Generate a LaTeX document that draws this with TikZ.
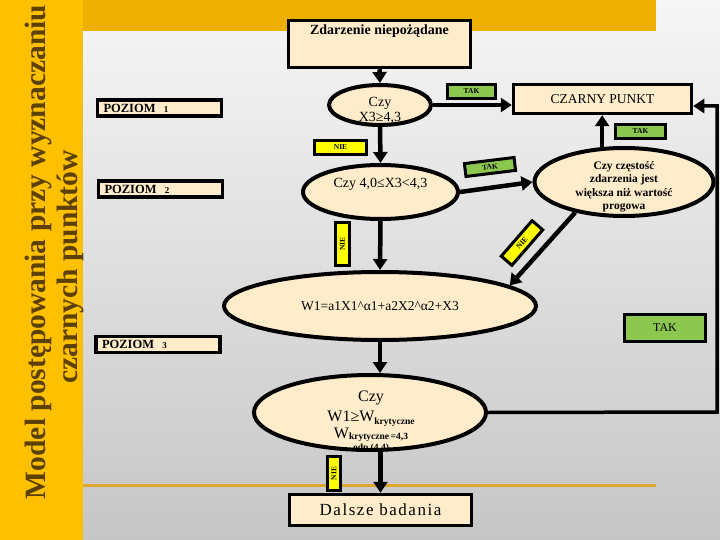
\documentclass[tikz,border=0pt]{standalone}
\usepackage{fontspec}
\setmainfont{Liberation Serif}
\newfontfamily\spacedfont[LetterSpace=9]{Liberation Serif}
\usepackage{tikz}
\usetikzlibrary{arrows.meta, shapes.geometric}

\definecolor{strip}{RGB}{255,192,0}
\definecolor{topbar}{RGB}{238,176,0}
\definecolor{rulecol}{RGB}{222,166,44}
\definecolor{titlebrown}{RGB}{92,64,0}
\definecolor{cream}{RGB}{254,236,202}
\definecolor{tagyellow}{RGB}{255,255,0}
\definecolor{taggreen}{RGB}{140,200,80}
\definecolor{bgtop}{RGB}{246,246,246}
\definecolor{bgbottom}{RGB}{198,198,198}

\newcommand{\krysub}[2][-2.5pt]{\raisebox{#1}{\bfseries\fontsize{9.5}{10}\selectfont #2}}

\begin{document}
\begin{tikzpicture}[x=1pt, y=-1pt,
	box/.style={draw, line width=3.5pt, fill=cream, inner sep=0pt},
	oval/.style={ellipse, draw, line width=4pt, fill=cream, inner sep=0pt, align=center},
	ovaltext/.style={align=center, inner sep=0pt},
	level/.style={box, inner xsep=6pt, minimum height=16pt, text width=112pt, align=left, font=\bfseries\fontsize{12.5}{13}\selectfont},
	tag/.style={draw, line width=3pt, inner sep=0pt, font=\bfseries\fontsize{7.5}{8}\selectfont},
	yes/.style={tag, fill=taggreen},
	no/.style={tag, fill=tagyellow},
	flow/.style={line width=4.5pt, -{Triangle[length=11pt, width=14pt]}}]
			% Background and title:
			\useasboundingbox (0, 0) rectangle (720, 540);
			\shade[top color=bgtop, bottom color=bgbottom] (83, 0) rectangle (720, 540);
			\fill[strip] (0, 0) rectangle (83, 540);
			\fill[topbar] (83, 0) rectangle (656, 31);
			\draw[rulecol, line width=3pt] (83, 485) -- (656, 485);
			\node[rotate=90, text=titlebrown, font=\bfseries\fontsize{29.5}{32}\selectfont](title1) at (38, 252){Model postępowania przy wyznaczaniu};
			\node[rotate=90, text=titlebrown, font=\bfseries\fontsize{29.5}{32}\selectfont](title2) at (70, 267){czarnych punktów};
			% Boxes, decisions and labels:
			\node[box, minimum width=182pt, text height=14pt, text depth=33pt, font=\bfseries\fontsize{14}{16}\selectfont](zdarz) at (379.5, 44){Zdarzenie niepożądane};
			\node[box, minimum width=178pt, minimum height=29pt, font=\fontsize{13.5}{15}\selectfont](czarny) at (602.5, 99){CZARNY PUNKT};
			\node[level](poz1) at (159.5, 108){POZIOM~~{\fontsize{9}{9}\selectfont 1}};
			\node[level](poz2) at (160.5, 189){POZIOM~~{\fontsize{9}{9}\selectfont 2}};
			\node[level](poz3) at (158, 344.5){POZIOM~~{\fontsize{9}{9}\selectfont 3}};
			\node[oval, minimum width=102pt, minimum height=40pt](q1) at (380, 105){};
			\node[ovaltext, font=\fontsize{14}{15}\selectfont](q1txt) at (380, 110){Czy\\X3≥4,3};
			\node[oval, minimum width=155pt, minimum height=54pt, text depth=18pt, font=\fontsize{14}{16}\selectfont](q2) at (380.5, 192){Czy 4,0≤X3<4,3};
			\node[oval, minimum width=179pt, minimum height=68pt](q3) at (624, 182){};
			\node[ovaltext, font=\bfseries\fontsize{11.5}{13.5}\selectfont](q3txt) at (624, 187){Czy częstość\\zdarzenia jest\\większa niż wartość\\progowa};
			\node[oval, minimum width=312pt, minimum height=68pt, font=\fontsize{13.5}{15}\selectfont](q4) at (380, 306){W1=a1X1\textasciicircum α1+a2X2\textasciicircum α2+X3};
			\node[oval, minimum width=232pt, minimum height=75pt](q5) at (370, 412.5){};
			\node[ovaltext, font=\fontsize{16}{20}\selectfont](q5txt) at (371, 422){Czy\\W1≥W\krysub{krytyczne}\\[-3pt]W\krysub[-0.5pt]{krytyczne\,=4,3}\\[-8pt]{\bfseries\fontsize{9.5}{10}\selectfont odp.(4,4)}};
			\node[box, minimum width=182pt, minimum height=31pt, font=\spacedfont\fontsize{17}{19}\selectfont](dalsze) at (380.5, 510){Dalsze badania};
			\node[yes, minimum width=48pt, minimum height=14pt](tak1) at (471.5, 91.5){TAK};
			\node[yes, minimum width=50pt, minimum height=14pt](tak2) at (640.5, 131.5){TAK};
			\node[yes, minimum width=50pt, minimum height=13pt, rotate=7](tak3) at (490, 167){TAK};
			\node[yes, minimum width=81pt, minimum height=27pt, font=\fontsize{12}{14}\selectfont](tak4) at (665, 328){TAK};
			\node[no, minimum width=52pt, minimum height=14pt](nie1) at (340.5, 147.5){NIE};
			\node[no, minimum width=43pt, minimum height=14pt, rotate=90](nie2) at (342.5, 244){NIE};
			\node[no, minimum width=47pt, minimum height=14pt, rotate=49](nie3) at (522, 243){NIE};
			\node[no, minimum width=34pt, minimum height=13pt, rotate=90](nie4) at (334, 473.5){NIE};
			% Arrows:
			\draw[flow] (zdarz.south) -- (q1.north);
			\draw[flow] (q1.east) -- (q1.east -| czarny.west);
			\draw[flow] (q1.south) -- (q2.north);
			\draw[flow] (q2.east) -- (q3.west);
			\draw[flow] (q3.122) -- (q3.122 |- czarny.south);
			\draw[flow] (q2.south) -- (q4.north);
			\draw[flow] (q3.212) -- (q4.9);
			\draw[flow] (q4.south) -- (q4.south |- q5.north);
			\draw[flow] (dalsze.north |- q5.south) -- (dalsze.north);
			\coordinate (loopBR) at (717, 412);
			\coordinate (loopTR) at (717, 106);
			\draw[flow, line width=3.5pt] (q5.east) -- (loopBR) -- (loopTR) -- (czarny.east |- loopTR);
		\end{tikzpicture}
\end{document}
